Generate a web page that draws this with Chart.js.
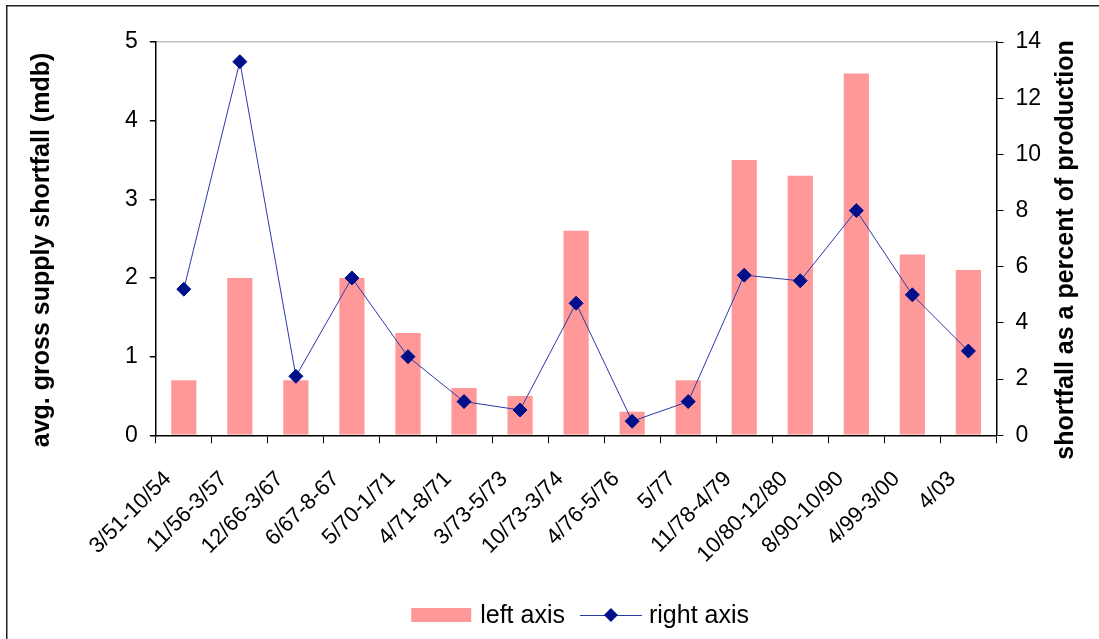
<!DOCTYPE html>
<html>
<head>
<meta charset="utf-8">
<script src="https://cdn.jsdelivr.net/npm/chart.js@4.4.1/dist/chart.umd.min.js"></script>
<style>
  body { margin: 0; background: #fff; }
  canvas { display: block; }
</style>
</head>
<body>
<canvas id="shortfallChart" width="1099" height="639"></canvas>
<script>
const periods = ['3/51-10/54', '11/56-3/57', '12/66-3/67', '6/67-8-67', '5/70-1/71', '4/71-8/71', '3/73-5/73',
  '10/73-3/74', '4/76-5/76', '5/77', '11/78-4/79', '10/80-12/80', '8/90-10/90', '4/99-3/00', '4/03'];
const shortfallMdb = [0.7, 2.0, 0.7, 2.0, 1.3, 0.6, 0.5, 2.6, 0.3, 0.7, 3.5, 3.3, 4.6, 2.3, 2.1];
const shortfallPct = [5.2, 13.3, 2.1, 5.6, 2.8, 1.2, 0.9, 4.7, 0.5, 1.2, 5.7, 5.5, 8.0, 5.0, 3.0];
const leftTitle = 'avg. gross supply shortfall (mdb)';
const rightTitle = 'shortfall as a percent of production';

const FONT = "'Liberation Sans', Arial, sans-serif";
Chart.defaults.font.family = FONT;
Chart.defaults.color = '#000';

const BAR_COLOR = '#ff9999';
const LINE_COLOR = '#2a3aa8';
const MARKER_COLOR = '#00108a';

// white background + the clipped chart frame
const framePlugin = {
  id: 'frame',
  beforeDraw(chart) {
    const ctx = chart.ctx;
    ctx.save();
    ctx.fillStyle = '#fff';
    ctx.fillRect(0, 0, chart.width, chart.height);
    ctx.strokeStyle = '#222';
    ctx.lineWidth = 1.5;
    ctx.strokeRect(6.75, 5.75, 1200, 1000);
    ctx.restore();
  }
};

// axis titles (both read bottom to top) and the legend
const textPlugin = {
  id: 'texts',
  afterDraw(chart) {
    const ctx = chart.ctx;
    const area = chart.chartArea;
    ctx.save();
    ctx.fillStyle = '#000';
    ctx.font = 'bold 25px ' + FONT;
    ctx.textAlign = 'center';
    ctx.textBaseline = 'middle';
    [[leftTitle, 42], [rightTitle, 1066]].forEach(([t, x]) => {
      ctx.save();
      ctx.translate(x, 250);
      ctx.rotate(-Math.PI / 2);
      ctx.fillText(t, 0, 0);
      ctx.restore();
    });

    // legend
    ctx.font = '25px ' + FONT;
    ctx.textAlign = 'left';
    const y = 615;
    const ds = chart.data.datasets;
    const w0 = ctx.measureText(ds[0].label).width;
    const w1 = ctx.measureText(ds[1].label).width;
    const total = 60 + 9 + w0 + 15 + 62 + 7 + w1;
    let x = (area.left + area.right) / 2 + 4 - total / 2;
    ctx.fillStyle = BAR_COLOR;
    ctx.fillRect(x, y - 7, 60, 14);
    x += 69;
    ctx.fillStyle = '#000';
    ctx.fillText(ds[0].label, x, y + 1);
    x += w0 + 15;
    ctx.strokeStyle = LINE_COLOR;
    ctx.lineWidth = 1;
    ctx.beginPath();
    ctx.moveTo(x, y + 0.5);
    ctx.lineTo(x + 62, y + 0.5);
    ctx.stroke();
    ctx.fillStyle = MARKER_COLOR;
    ctx.beginPath();
    ctx.moveTo(x + 31, y - 7);
    ctx.lineTo(x + 38, y);
    ctx.lineTo(x + 31, y + 7);
    ctx.lineTo(x + 24, y);
    ctx.closePath();
    ctx.fill();
    x += 69;
    ctx.fillStyle = '#000';
    ctx.fillText(ds[1].label, x, y + 1);
    ctx.restore();
  }
};

new Chart(document.getElementById('shortfallChart'), {
  data: {
    labels: periods,
    datasets: [
      {
        type: 'bar',
        label: 'left axis',
        data: shortfallMdb,
        yAxisID: 'yLeft',
        backgroundColor: BAR_COLOR,
        borderWidth: 0,
        categoryPercentage: 1,
        barPercentage: 0.45,
        order: 2
      },
      {
        type: 'line',
        label: 'right axis',
        data: shortfallPct,
        yAxisID: 'yRight',
        borderColor: LINE_COLOR,
        borderWidth: 1,
        pointStyle: 'rectRot',
        pointRadius: 7,
        pointBackgroundColor: MARKER_COLOR,
        pointBorderColor: MARKER_COLOR,
        pointBorderWidth: 1,
        tension: 0,
        order: 1
      }
    ]
  },
  options: {
    responsive: false,
    animation: false,
    devicePixelRatio: 1,
    layout: { padding: { left: 113, right: 46, top: 42, bottom: 48 } },
    plugins: {
      legend: { display: false },
      tooltip: { enabled: false }
    },
    scales: {
      x: {
        offset: true,
        grid: { offset: true, drawOnChartArea: false, tickLength: 8, tickColor: '#000', lineWidth: 1 },
        border: { color: '#000', width: 1.5 },
        ticks: {
          font: { size: 22 },
          color: '#000',
          autoSkip: false,
          minRotation: 45,
          maxRotation: 45,
          padding: 23,
          labelOffset: -16
        },
        // labels overhang to the left but there is room, don't let them push the plot
        afterFit: scale => { scale.paddingLeft = 0; scale.paddingRight = 0; }
      },
      yLeft: {
        position: 'left',
        min: 0,
        max: 5,
        grid: {
          tickLength: 6,
          tickColor: '#000',
          color: ctx => ctx.tick && ctx.tick.value === 5 ? '#c0c0c0' : 'rgba(0,0,0,0)',
          lineWidth: 1.5
        },
        border: { color: '#000', width: 1.5 },
        ticks: { stepSize: 1, font: { size: 23 }, color: '#000', padding: 12 }
      },
      yRight: {
        position: 'right',
        min: 0,
        max: 14,
        grid: { drawOnChartArea: false, tickLength: 7, tickColor: '#000' },
        border: { color: '#000', width: 1.5 },
        ticks: { stepSize: 2, font: { size: 23 }, color: '#000', padding: 12 }
      }
    }
  },
  plugins: [framePlugin, textPlugin]
});
</script>
</body>
</html>
